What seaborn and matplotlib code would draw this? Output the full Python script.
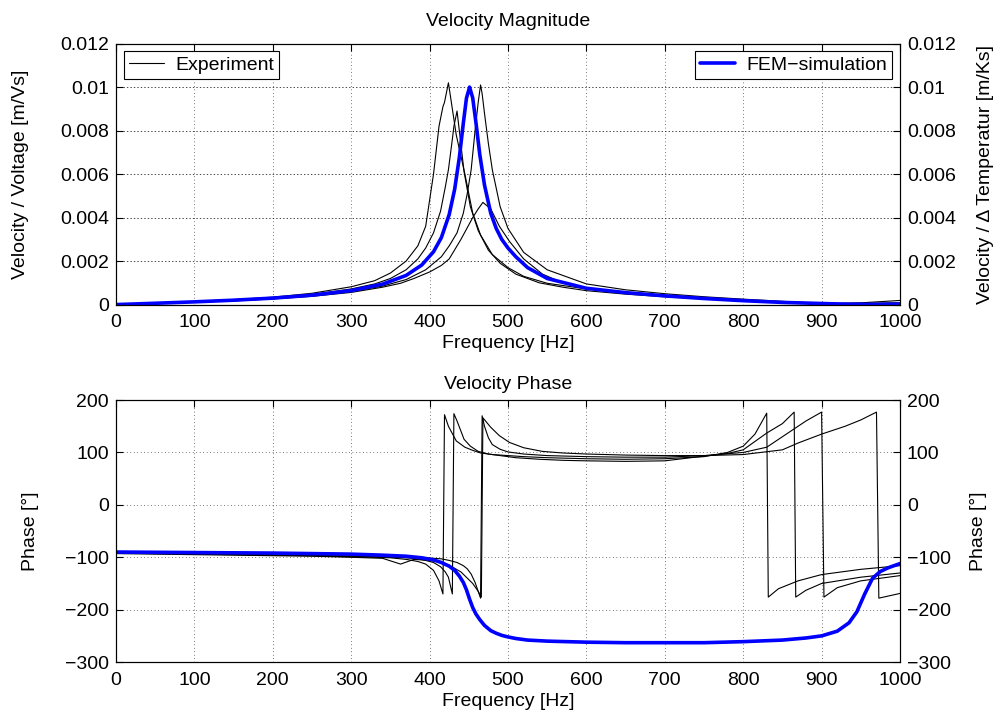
import numpy as np
import pandas as pd
import matplotlib
matplotlib.use('Agg')
import matplotlib.pyplot as plt
import seaborn as sns
from matplotlib.lines import Line2D
from matplotlib.ticker import FuncFormatter

# measured runs: frequency [Hz], magnitude [m/Vs], phase [deg]
freq_e1 = [0, 50, 100, 150, 200, 250, 300, 330, 350, 370, 385, 395, 405, 412, 417, 419, 424, 434, 445, 455,
           465, 480, 500, 520, 550, 600, 650, 700, 750, 780, 800, 815, 830, 832, 845, 870, 900, 950, 1000]
mag_e1 = [0, 0.00007, 0.00014, 0.00023, 0.00034, 0.00052, 0.00082, 0.0011, 0.00145, 0.0020,
          0.0027, 0.0036, 0.0060, 0.0082, 0.0091, 0.0093, 0.0102, 0.0078, 0.0060, 0.0042,
          0.0032, 0.0023, 0.0017, 0.0013, 0.00098, 0.00072, 0.00055, 0.00042, 0.00030, 0.00024,
          0.00020, 0.00016, 0.00013, 0.00013, 0.00010, 0.00007, 0.00005, 0.00006, 0.00008]
phase_e1 = [-92, -93, -94, -95, -96, -97, -99, -100, -101, -104,
            -108, -113, -125, -145, -170, 172, 150, 122, 110, 104,
            99, 96, 94, 92, 90, 88, 87, 88, 92, 100,
            112, 135, 175, -176, -160, -145, -133, -123, -116]

freq_e2 = [0, 50, 100, 150, 200, 250, 300, 330, 350, 370, 385, 395, 405, 414, 420, 424, 429, 431, 435, 444,
           452, 462, 475, 490, 510, 540, 570, 600, 650, 700, 750, 780, 800, 830, 850, 865, 867, 880, 900, 950, 1000]
mag_e2 = [0, 0.00006, 0.00013, 0.00021, 0.00031, 0.00046, 0.00072, 0.00095, 0.0012, 0.0016,
          0.0021, 0.0026, 0.0033, 0.0043, 0.0054, 0.0062, 0.0076, 0.0082, 0.0089, 0.0061,
          0.0045, 0.0034, 0.0025, 0.0019, 0.0014, 0.0010, 0.00080, 0.00064, 0.00048, 0.00036,
          0.00026, 0.00021, 0.00018, 0.00013, 0.00010, 0.00008, 0.00008, 0.00006, 0.00004, 0.00004, 0.00005]
phase_e2 = [-91, -92, -93, -94, -95, -96, -98, -99, -100, -101,
            -103, -106, -110, -118, -128, -138, -170, 174, 160, 125,
            112, 102, 97, 94, 90, 87, 85, 84, 83, 84,
            93, 98, 105, 137, 155, 177, -176, -163, -150, -138, -130]

freq_e3 = [0, 50, 100, 150, 200, 250, 300, 340, 370, 395, 415, 425, 435, 443, 448, 453, 458, 462, 465, 467,
           470, 475, 480, 490, 500, 520, 550, 600, 650, 700, 750, 800, 830, 860, 880, 900, 903, 920, 950, 1000]
mag_e3 = [0, 0.00005, 0.00011, 0.00018, 0.00027, 0.00040, 0.00060, 0.00085, 0.00115, 0.0016,
          0.0022, 0.0027, 0.0033, 0.0042, 0.0051, 0.0062, 0.0080, 0.0093, 0.0101, 0.0097,
          0.0088, 0.0074, 0.0062, 0.0045, 0.0035, 0.0024, 0.0016, 0.00095, 0.00068, 0.00050,
          0.00036, 0.00025, 0.00019, 0.00013, 0.00009, 0.00006, 0.00006, 0.00005, 0.00008, 0.00019]
phase_e3 = [-90, -91, -92, -93, -94, -95, -96, -98, -100, -101,
            -103, -106, -110, -116, -122, -132, -148, -165, -178, 170,
            150, 128, 115, 106, 101, 97, 94, 92, 91, 91,
            94, 100, 110, 140, 160, 177, -176, -158, -145, -135]

freq_e4 = [0, 50, 100, 150, 200, 250, 300, 340, 363, 380, 400, 415, 425, 440, 455, 462, 466, 468, 478, 489,
           502, 520, 544, 570, 600, 650, 700, 750, 800, 850, 870, 900, 930, 950, 970, 973, 985, 1000]
mag_e4 = [0, 0.00005, 0.00011, 0.00017, 0.00026, 0.00038, 0.00056, 0.00080, 0.00098, 0.0012,
          0.0015, 0.0018, 0.0021, 0.0030, 0.0040, 0.0044, 0.0046, 0.0047, 0.0044, 0.0036,
          0.0029, 0.0021, 0.0014, 0.0010, 0.00074, 0.00052, 0.00038, 0.00027, 0.00017, 0.00010,
          0.00008, 0.00005, 0.00004, 0.00004, 0.00005, 0.00005, 0.00006, 0.00006]
phase_e4 = [-93, -94, -95, -96, -97, -98, -100, -102, -113, -104,
            -106, -110, -115, -128, -150, -165, -176, 166, 148, 132,
            119, 109, 102, 99, 97, 95, 94, 94, 96, 105,
            118, 135, 150, 162, 177, -178, -174, -169]

# FEM simulation
freq_sim = [0, 50, 100, 150, 200, 250, 300, 340, 370, 390, 405, 415, 425, 432, 438, 443, 447, 451, 455, 459,
            464, 470, 478, 485, 492, 500, 510, 525, 550, 600, 650, 700, 750, 800, 850, 880, 900, 920, 935, 945,
            955, 965, 975, 985, 1000]
mag_sim = [0, 0.000061, 0.000126, 0.000202, 0.000298, 0.000432, 0.000643, 0.00094, 0.00134, 0.00182,
           0.00243, 0.00308, 0.00414, 0.00531, 0.00678, 0.00834, 0.00949, 0.0100, 0.0095, 0.0084,
           0.0069, 0.0055, 0.0042, 0.0035, 0.0030, 0.0026, 0.0022, 0.0017, 0.0012, 0.00075,
           0.00055, 0.00040, 0.00028, 0.00018, 0.00010, 0.00007, 0.00005, 0.00003, 0.00002, 0.00002,
           0.00001, 0.00001, 0.00001, 0.00002, 0.00002]
phase_sim = [-90, -90.5, -91, -91.5, -92, -93, -94, -96, -98, -101,
             -105, -110, -117, -125, -136, -148, -162, -180, -196, -208,
             -219, -230, -240, -245, -249, -252, -255, -258, -260, -262,
             -263, -263, -263, -261, -258, -254, -250, -241, -225, -204,
             -170, -140, -127, -120, -112]

freq_ticks = [0, 100, 200, 300, 400, 500, 600, 700, 800, 900, 1000]
mag_ticks = [0, 0.002, 0.004, 0.006, 0.008, 0.01, 0.012]
phase_ticks = [-300, -200, -100, 0, 100, 200]

runs = {'1': (freq_e1, mag_e1, phase_e1), '2': (freq_e2, mag_e2, phase_e2),
        '3': (freq_e3, mag_e3, phase_e3), '4': (freq_e4, mag_e4, phase_e4)}
exp_df = pd.concat([pd.DataFrame({'freq': f, 'mag': m, 'phase': p, 'run': name})
                    for name, (f, m, p) in runs.items()], ignore_index=True)
sim_df = pd.DataFrame({'freq': freq_sim, 'mag': mag_sim, 'phase': phase_sim})

sns.set_style('white', {'axes.edgecolor': 'black', 'axes.labelcolor': 'black', 'text.color': 'black',
                        'xtick.color': 'black', 'ytick.color': 'black',
                        'xtick.direction': 'in', 'ytick.direction': 'in'})
plt.rcParams['font.family'] = ['Liberation Sans', 'DejaVu Sans']
plt.rcParams['font.size'] = 14
plt.rcParams['axes.linewidth'] = 0.8

FS = 14

fig = plt.figure(figsize=(10, 7.15), dpi=100)
ax1 = fig.add_axes([0.116, 0.574, 0.784, 0.365])
ax2 = fig.add_axes([0.116, 0.074, 0.784, 0.3665])


def finish(ax, yticks, ylabel, rlabel, title, tpad, lpad, rpad, fmt=None, ygrid=(0, (1, 4))):
    ax.set_xlim(0, 1000)
    ax.set_xticks(freq_ticks)
    ax.set_ylim(yticks[0], yticks[-1])
    ax.set_yticks(yticks)
    if fmt is not None:
        ax.yaxis.set_major_formatter(fmt)
    ax.xaxis.grid(True, color='black', linestyle=(0, (1, 4)), linewidth=0.5)
    ax.yaxis.grid(True, color='black', linestyle=ygrid, linewidth=0.5)
    ax.set_axisbelow(True)
    ax.tick_params(direction='in', top=True, length=5, width=0.8, labelsize=FS, pad=5)
    ax.tick_params(axis='x', pad=7)
    ax.set_xlabel('Frequency [Hz]', fontsize=FS, labelpad=3)
    ax.set_ylabel(ylabel, fontsize=FS, labelpad=lpad)
    ax.set_title(title, fontsize=FS, pad=tpad)
    twin = ax.twinx()
    twin.set_ylim(yticks[0], yticks[-1])
    twin.set_yticks(yticks)
    if fmt is not None:
        twin.yaxis.set_major_formatter(fmt)
    twin.tick_params(direction='in', length=5, width=0.8, labelsize=FS, pad=5)
    twin.set_ylabel(rlabel, fontsize=FS, labelpad=rpad)
    return twin


# magnitude
sns.lineplot(data=exp_df, x='freq', y='mag', units='run', estimator=None, sort=False,
             color='black', linewidth=0.8, legend=False, ax=ax1)
sns.lineplot(data=sim_df, x='freq', y='mag', estimator=None, sort=False,
             color='blue', linewidth=2.6, legend=False, ax=ax1)
fmt = FuncFormatter(lambda v, p: '%g' % round(v, 4))
finish(ax1, mag_ticks, 'Velocity / Voltage [m/Vs]', 'Velocity / Δ Temperatur [m/Ks]',
       'Velocity Magnitude', 13, 22, 15, fmt, ygrid=(0, (2, 3)))

leg_kw = dict(fancybox=False, framealpha=1, edgecolor='black', fontsize=FS, borderpad=0.25,
              handlelength=1.8, handletextpad=0.6, borderaxespad=0.4)
leg_exp = ax1.legend(handles=[Line2D([], [], color='black', lw=0.8)], labels=['Experiment'],
                     loc='upper left', **leg_kw)
leg_exp.get_frame().set_linewidth(0.8)
ax1.add_artist(leg_exp)
leg_sim = ax1.legend(handles=[Line2D([], [], color='blue', lw=2.6)], labels=['FEM\u2212simulation'],
                     loc='upper right', **leg_kw)
leg_sim.get_frame().set_linewidth(0.8)

# phase
sns.lineplot(data=exp_df, x='freq', y='phase', units='run', estimator=None, sort=False,
             color='black', linewidth=0.8, legend=False, ax=ax2)
sns.lineplot(data=sim_df, x='freq', y='phase', estimator=None, sort=False,
             color='blue', linewidth=2.6, legend=False, ax=ax2)
finish(ax2, phase_ticks, 'Phase [°]', 'Phase [°]', 'Velocity Phase', 8, 19, 14)

fig.savefig('out.png', dpi=100)
